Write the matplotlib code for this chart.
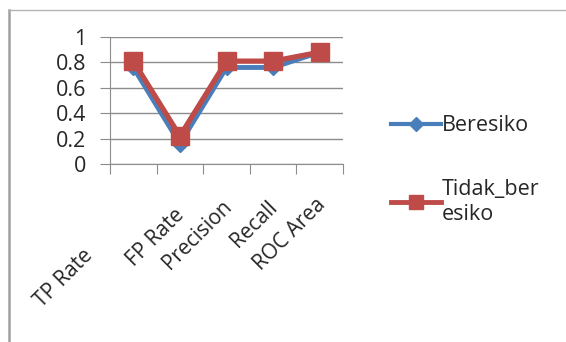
import matplotlib.pyplot as plt
from matplotlib.lines import Line2D

plt.rcParams['font.family'] = ['Open Sans', 'DejaVu Sans']

categories = ["TP Rate", "FP Rate", "Precision", "Recall", "ROC Area"]
beresiko = [0.76, 0.16, 0.76, 0.76, 0.88]
tidak_beresiko = [0.81, 0.22, 0.81, 0.81, 0.88]
yticks = [0, 0.2, 0.4, 0.6, 0.8, 1]

# end point (pixels from top-left) of each rotated category label
label_ends = [(90, 252), (181, 212), (229, 204), (274, 204), (323, 202)]

W, H = 566, 342
blue = "#4a7ebb"
red = "#be4b48"
txt = "#262626"

fig = plt.figure(figsize=(W / 100, H / 100), dpi=100)

# chart frame, partly cropped
fig.add_artist(Line2D([9 / W, 9 / W], [0, 1 - 10 / H], color="#a0a0a0", lw=1.8))
fig.add_artist(Line2D([9 / W, 1], [1 - 10 / H, 1 - 10 / H], color="#b4b4b4", lw=1.0))
fig.text(0.04, 1.025, "diolawan ini.", family="Liberation Serif", fontsize=12,
         va="center", color="#222222")

ax = fig.add_axes([110 / W, 1 - 164 / H, 233 / W, 127 / H])
x = range(len(categories))
ax.plot(x, beresiko, color=blue, lw=3.5, marker="D", ms=8, zorder=3)
ax.plot(x, tidak_beresiko, color=red, lw=3.8, marker="s", ms=13, zorder=4)

ax.set_xlim(-0.5, len(categories) - 0.5)
ax.set_ylim(0, 1)
ax.set_yticks(yticks)
ax.set_yticklabels([f"{v:g}" for v in yticks], fontsize=15.5, color=txt)
ax.grid(axis="y", color="#8c8c8c", lw=1)
ax.set_axisbelow(True)
for s in ["top", "right"]:
    ax.spines[s].set_visible(False)
ax.spines["left"].set_color("#8c8c8c")
ax.spines["bottom"].set_color("#8c8c8c")
ax.tick_params(axis="y", length=7, color="#8c8c8c", pad=10)

# category boundary ticks
ax.set_xticks([i - 0.5 for i in range(len(categories) + 1)])
ax.set_xticklabels([])
ax.tick_params(axis="x", length=7, color="#8c8c8c")
for c, (px, py) in zip(categories, label_ends):
    fig.text(px / W, 1 - py / H, c, rotation=45, ha="right", va="center",
             rotation_mode="anchor", fontsize=15, color=txt)

handles = [
    Line2D([], [], color=blue, lw=3, marker="D", ms=7),
    Line2D([], [], color=red, lw=3.5, marker="s", ms=10),
]
labels = ["Beresiko", "Tidak_ber\nesiko"]
fig.legend(handles, labels, loc="upper left", bbox_to_anchor=(372 / W, 1 - 96 / H),
           frameon=False, fontsize=15.5, handlelength=2.3, handletextpad=0.05,
           labelspacing=2.0, labelcolor=txt)

fig.savefig("out.png", dpi=100)
